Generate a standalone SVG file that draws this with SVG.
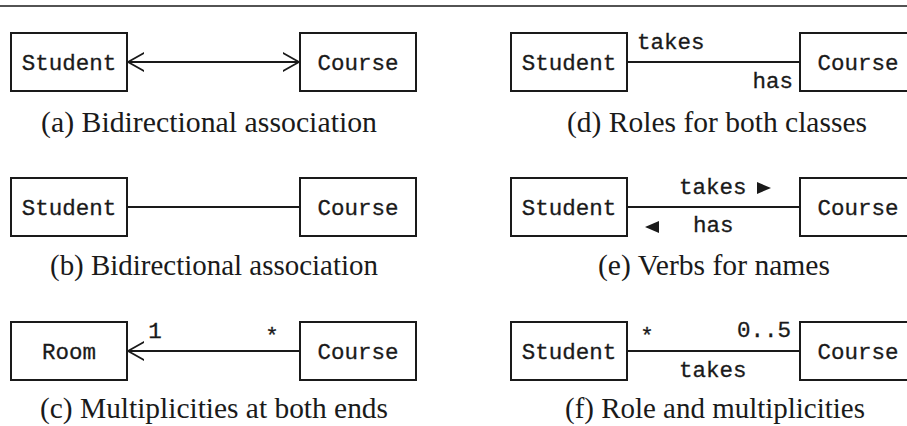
<svg xmlns="http://www.w3.org/2000/svg" width="907" height="426" viewBox="0 0 907 426">
  <style>
    .box { fill: #fff; stroke: #1a1a1a; stroke-width: 2; }
    .conn { stroke: #1a1a1a; stroke-width: 1.8; fill: none; }
    .head { stroke: #1a1a1a; stroke-width: 1.8; fill: none; stroke-linecap: round; stroke-linejoin: round; }
    .mono { font-family: "Liberation Mono", "DejaVu Sans Mono", monospace; font-size: 22.5px; fill: #1a1a1a; stroke: #1a1a1a; stroke-width: 0.3; }
    .cap { font-family: "Liberation Serif", "DejaVu Serif", serif; font-size: 29px; fill: #1a1a1a; text-anchor: middle; }
    .mid { text-anchor: middle; }
    .end { text-anchor: end; }
  </style>
  <defs>
    <marker id="open" viewBox="0 0 16 20" refX="16" refY="10" markerWidth="16" markerHeight="20" markerUnits="userSpaceOnUse" orient="auto-start-reverse">
      <path d="M0,1 L16,10 L0,19" class="head"/>
    </marker>
  </defs>

  <rect width="907" height="426" fill="#fff"/>
  <line x1="0" y1="6" x2="907" y2="6" stroke="#1a1a1a" stroke-width="1.5"/>

  <!-- connectors -->
  <g id="connectors">
    <line class="conn" x1="128" y1="62" x2="299" y2="62" marker-start="url(#open)" marker-end="url(#open)"/>
    <line class="conn" x1="127" y1="207" x2="300" y2="207"/>
    <line class="conn" x1="300" y1="351" x2="128" y2="351" marker-end="url(#open)"/>
    <line class="conn" x1="627" y1="62" x2="800" y2="62"/>
    <line class="conn" x1="627" y1="207" x2="800" y2="207"/>
    <line class="conn" x1="627" y1="351" x2="800" y2="351"/>
  </g>

  <!-- (a) -->
  <g id="a-student"><rect class="box" x="11" y="33" width="116" height="58"/><text class="mono mid" x="69" y="70">Student</text></g>
  <g id="a-course"><rect class="box" x="300" y="33" width="116" height="58"/><text class="mono mid" x="358" y="70">Course</text></g>
  <text class="cap" x="209" y="132" textLength="336" lengthAdjust="spacingAndGlyphs">(a) Bidirectional association</text>

  <!-- (b) -->
  <g id="b-student"><rect class="box" x="11" y="178" width="116" height="58"/><text class="mono mid" x="69" y="215">Student</text></g>
  <g id="b-course"><rect class="box" x="300" y="178" width="116" height="58"/><text class="mono mid" x="358" y="215">Course</text></g>
  <text class="cap" x="214" y="275" textLength="328" lengthAdjust="spacingAndGlyphs">(b) Bidirectional association</text>

  <!-- (c) -->
  <g id="c-room"><rect class="box" x="11" y="322" width="116" height="58"/><text class="mono mid" x="69" y="359">Room</text></g>
  <g id="c-course"><rect class="box" x="300" y="322" width="116" height="58"/><text class="mono mid" x="358" y="359">Course</text></g>
  <text class="mono mid" x="155" y="338">1</text>
  <text class="mono mid" x="272" y="343">*</text>
  <text class="cap" x="214" y="418" textLength="348" lengthAdjust="spacingAndGlyphs">(c) Multiplicities at both ends</text>

  <!-- (d) -->
  <g id="d-student"><rect class="box" x="511" y="33" width="116" height="58"/><text class="mono mid" x="569" y="70">Student</text></g>
  <g id="d-course"><rect class="box" x="800" y="33" width="116" height="58"/><text class="mono mid" x="858" y="70">Course</text></g>
  <text class="mono" x="637" y="49">takes</text>
  <text class="mono end" x="793" y="88">has</text>
  <text class="cap" x="717" y="132" textLength="300" lengthAdjust="spacingAndGlyphs">(d) Roles for both classes</text>

  <!-- (e) -->
  <g id="e-student"><rect class="box" x="511" y="178" width="116" height="58"/><text class="mono mid" x="569" y="215">Student</text></g>
  <g id="e-course"><rect class="box" x="800" y="178" width="116" height="58"/><text class="mono mid" x="858" y="215">Course</text></g>
  <text class="mono" x="679" y="194">takes</text>
  <polygon points="757,182 771,188 757,194" fill="#1a1a1a"/>
  <text class="mono" x="693" y="232">has</text>
  <polygon points="659,221 645,227 659,233" fill="#1a1a1a"/>
  <text class="cap" x="714" y="275" textLength="232" lengthAdjust="spacingAndGlyphs">(e) Verbs for names</text>

  <!-- (f) -->
  <g id="f-student"><rect class="box" x="511" y="322" width="116" height="58"/><text class="mono mid" x="569" y="359">Student</text></g>
  <g id="f-course"><rect class="box" x="800" y="322" width="116" height="58"/><text class="mono mid" x="858" y="359">Course</text></g>
  <text class="mono mid" x="647" y="343">*</text>
  <text class="mono end" x="791" y="337">0..5</text>
  <text class="mono" x="679" y="377">takes</text>
  <text class="cap" x="715" y="418" textLength="300" lengthAdjust="spacingAndGlyphs">(f) Role and multiplicities</text>
</svg>
